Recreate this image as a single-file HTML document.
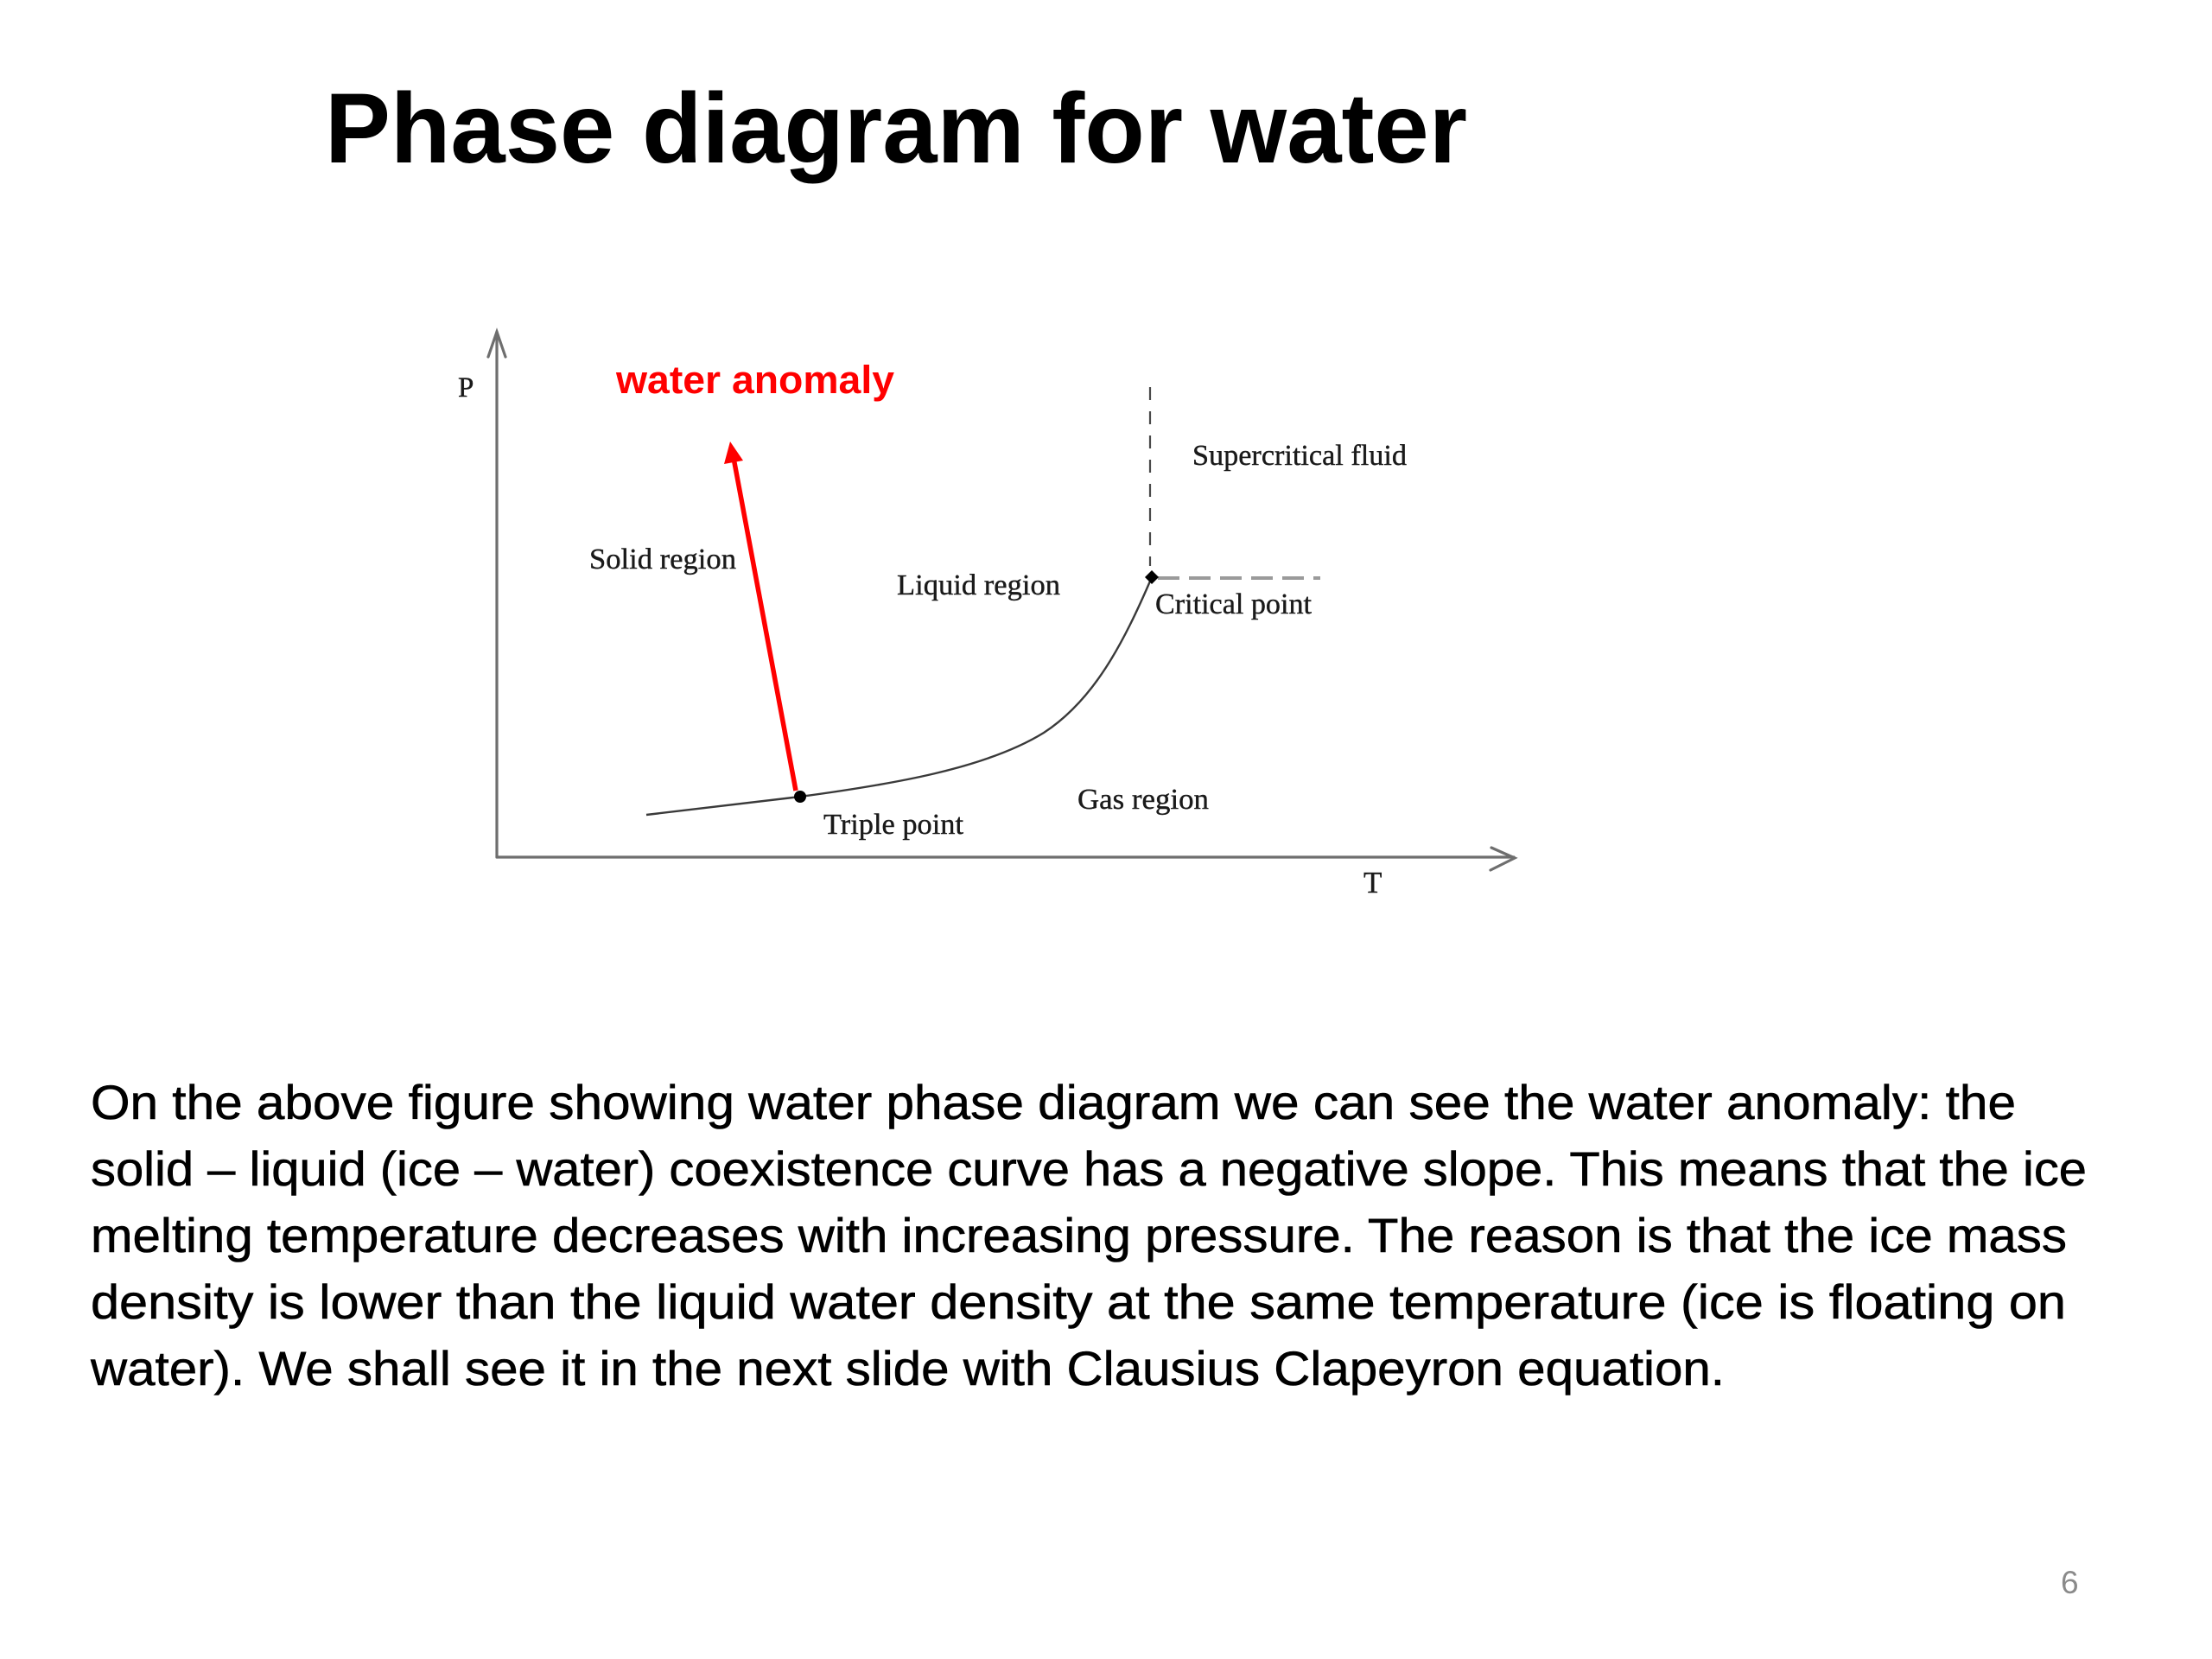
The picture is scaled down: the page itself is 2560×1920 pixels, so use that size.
<!DOCTYPE html>
<html>
<head>
<meta charset="utf-8">
<style>
  html, body { margin: 0; padding: 0; background: #ffffff; }
  svg { display: block; }
</style>
</head>
<body>
<svg width="2560" height="1920" viewBox="0 0 2560 1920" xmlns="http://www.w3.org/2000/svg">
  <rect x="0" y="0" width="2560" height="1920" fill="#ffffff"/>

  <!-- Title -->
  <text x="376" y="188" font-family="'Liberation Sans', Arial, sans-serif" font-weight="bold" font-size="115" fill="#000" textLength="1322" lengthAdjust="spacingAndGlyphs">Phase diagram for water</text>

  <!-- Axes -->
  <g stroke="#6e6e6e" stroke-width="3.2" fill="none" stroke-linecap="round">
    <line x1="575" y1="384" x2="575" y2="992"/>
    <line x1="575" y1="992" x2="1752" y2="992"/>
    <polyline points="565,413 575,384 585,413"/>
    <polyline points="1726,981 1753,993 1725,1007"/>
  </g>

  <!-- Axis labels -->
  <g font-family="'Liberation Serif', 'Times New Roman', serif" fill="#1a1a1a" stroke="#1a1a1a" stroke-width="0.4">
    <text x="530" y="459" font-size="33">P</text>
    <text x="1578" y="1033" font-size="35">T</text>
  </g>

  <!-- water anomaly label -->
  <text x="713" y="455" font-family="'Liberation Sans', Arial, sans-serif" font-weight="bold" font-size="45" fill="#ff0000" textLength="322" lengthAdjust="spacingAndGlyphs">water anomaly</text>

  <!-- Dashed vertical line (supercritical boundary) -->
  <line x1="1331" y1="448" x2="1331" y2="655" stroke="#4a4a4a" stroke-width="2.2" stroke-dasharray="15,13"/>
  <!-- Dashed horizontal line -->
  <line x1="1340" y1="669" x2="1528" y2="669" stroke="#9a9a9a" stroke-width="4" stroke-dasharray="25,11"/>

  <!-- Coexistence curve -->
  <path d="M748,943 L926,922 C1030,908 1140,890 1208,848 C1266,810 1300,745 1333,668" fill="none" stroke="#3a3a3a" stroke-width="2.4"/>

  <!-- Red arrow (anomaly slope) -->
  <line x1="921" y1="915" x2="849" y2="530" stroke="#ff0000" stroke-width="5.5"/>
  <polygon points="845,511 838,537 860,533" fill="#ff0000"/>

  <!-- Points -->
  <circle cx="926" cy="922" r="7" fill="#000"/>
  <polygon points="1333,660 1341,668 1333,676 1325,668" fill="#000"/>

  <!-- Region labels -->
  <g font-family="'Liberation Serif', 'Times New Roman', serif" font-size="34" fill="#1a1a1a" stroke="#1a1a1a" stroke-width="0.4">
    <text x="682" y="658" textLength="170" lengthAdjust="spacingAndGlyphs">Solid region</text>
    <text x="1038" y="688" textLength="189" lengthAdjust="spacingAndGlyphs">Liquid region</text>
    <text x="1380" y="538" textLength="248" lengthAdjust="spacingAndGlyphs">Supercritical fluid</text>
    <text x="1337" y="710" textLength="181" lengthAdjust="spacingAndGlyphs">Critical point</text>
    <text x="1247" y="936" textLength="152" lengthAdjust="spacingAndGlyphs">Gas region</text>
    <text x="953" y="965" textLength="162" lengthAdjust="spacingAndGlyphs">Triple point</text>
  </g>

  <!-- Body paragraph -->
  <g font-family="'Liberation Sans', Arial, sans-serif" font-size="56" fill="#000" stroke="#000" stroke-width="0.6">
    <text x="105" y="1295" textLength="2228" lengthAdjust="spacingAndGlyphs">On the above figure showing water phase diagram we can see the water anomaly: the</text>
    <text x="105" y="1372" textLength="2310" lengthAdjust="spacingAndGlyphs">solid – liquid (ice – water) coexistence curve has a negative slope. This means that the ice</text>
    <text x="105" y="1449" textLength="2287" lengthAdjust="spacingAndGlyphs">melting temperature decreases with increasing pressure. The reason is that the ice mass</text>
    <text x="105" y="1526" textLength="2286" lengthAdjust="spacingAndGlyphs">density is lower than the liquid water density at the same temperature (ice is floating on</text>
    <text x="105" y="1603" textLength="1891" lengthAdjust="spacingAndGlyphs">water). We shall see it in the next slide with Clausius Clapeyron equation.</text>
  </g>

  <!-- Page number -->
  <text x="2385" y="1844" font-family="'Liberation Sans', Arial, sans-serif" font-size="37" fill="#8a8a8a">6</text>
</svg>
</body>
</html>
